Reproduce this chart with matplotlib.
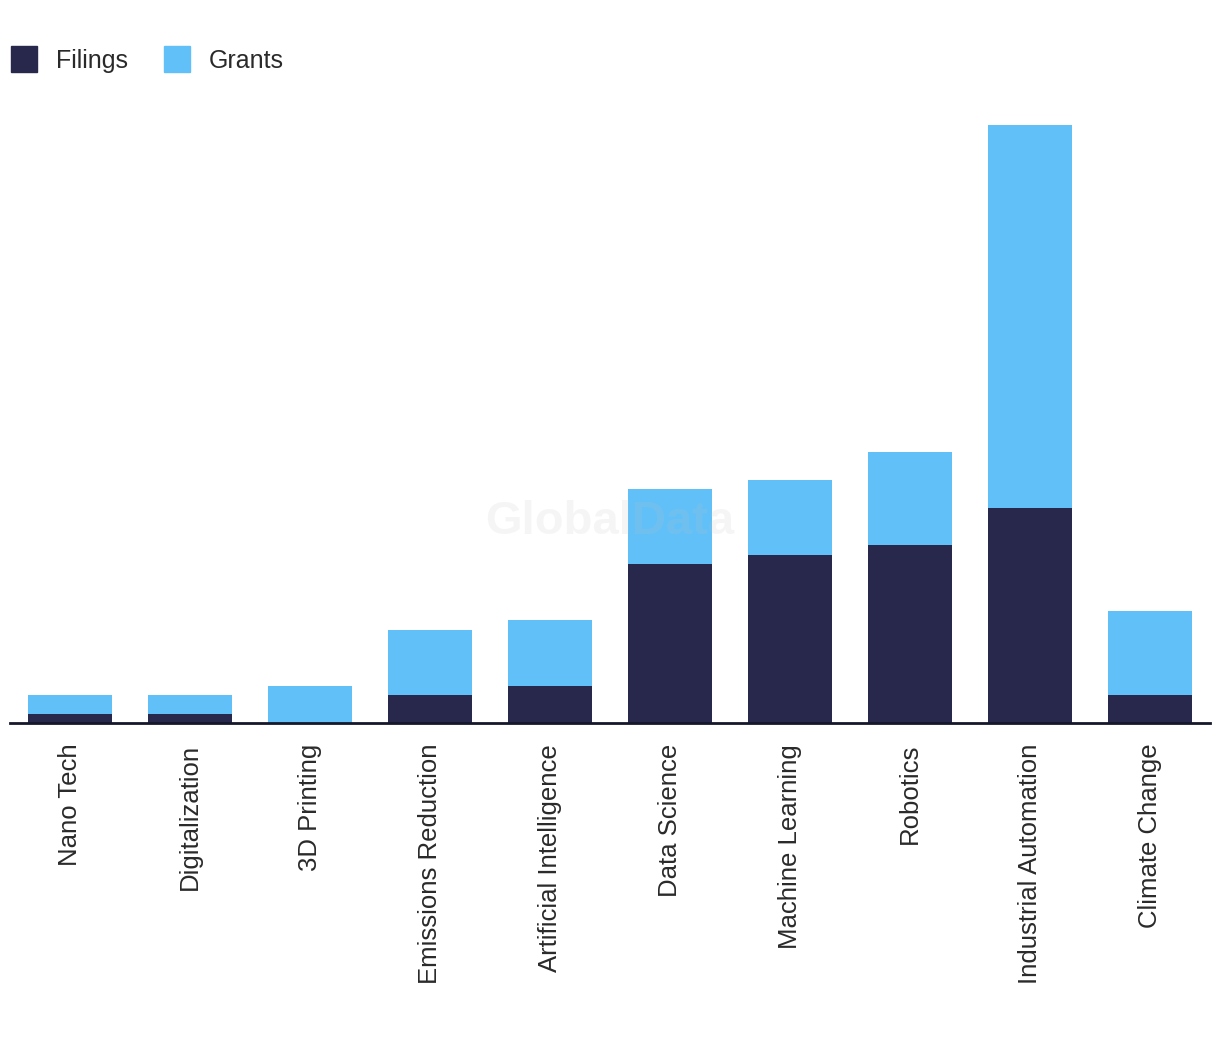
import numpy as np
import matplotlib
matplotlib.use("Agg")
from matplotlib import pyplot as plt
from matplotlib.patches import Patch

# data
categories = ["Nano Tech", "Digitalization", "3D Printing", "Emissions Reduction",
              "Artificial Intelligence", "Data Science", "Machine Learning",
              "Robotics", "Industrial Automation", "Climate Change"]
filings = [1, 1, 0, 3, 4, 17, 18, 19, 23, 3]
grants = [2, 2, 4, 7, 7, 8, 8, 10, 41, 9]

navy = "#27284c"
sky = "#62c0f8"

plt.rcParams['font.family'] = ['Liberation Sans', 'DejaVu Sans']

fig = plt.figure(figsize=(12.2, 10.42), dpi=100)
ax = fig.add_axes([10 / 1220, 319 / 1042, 1200 / 1220, 617 / 1042])

x = np.arange(len(categories))
ax.bar(x, filings, width=0.7, color=navy)
ax.bar(x, grants, width=0.7, bottom=filings, color=sky)

ax.set_xlim(-0.5, 9.5)
ax.set_ylim(0, 66)
ax.set_yticks([])
ax.set_xticks(x)
ax.set_xticklabels(categories, rotation=90, fontsize=18.5, color="#2a2a2a")
ax.tick_params(axis='x', length=0, pad=15)
for s in ["top", "right", "left"]:
    ax.spines[s].set_visible(False)
ax.spines["bottom"].set_color("#15172a")
ax.spines["bottom"].set_linewidth(2)

# faint watermark, sits over the bars
ax.text(0.5, 0.325, "GlobalData", transform=ax.transAxes, ha="center", va="center",
        fontsize=34, fontweight="bold", color="#c2c2c2", alpha=0.15, zorder=5)

handles = [Patch(color=navy, label="Filings"), Patch(color=sky, label="Grants")]
fig.legend(handles=handles, loc="upper left", bbox_to_anchor=(-0.0095, 0.977),
           ncol=2, frameon=False, fontsize=18, handlelength=1.05, handleheight=1.2,
           handletextpad=0.75, columnspacing=1.45, labelcolor="#2a2a2a")

fig.savefig("out.png", dpi=100)
